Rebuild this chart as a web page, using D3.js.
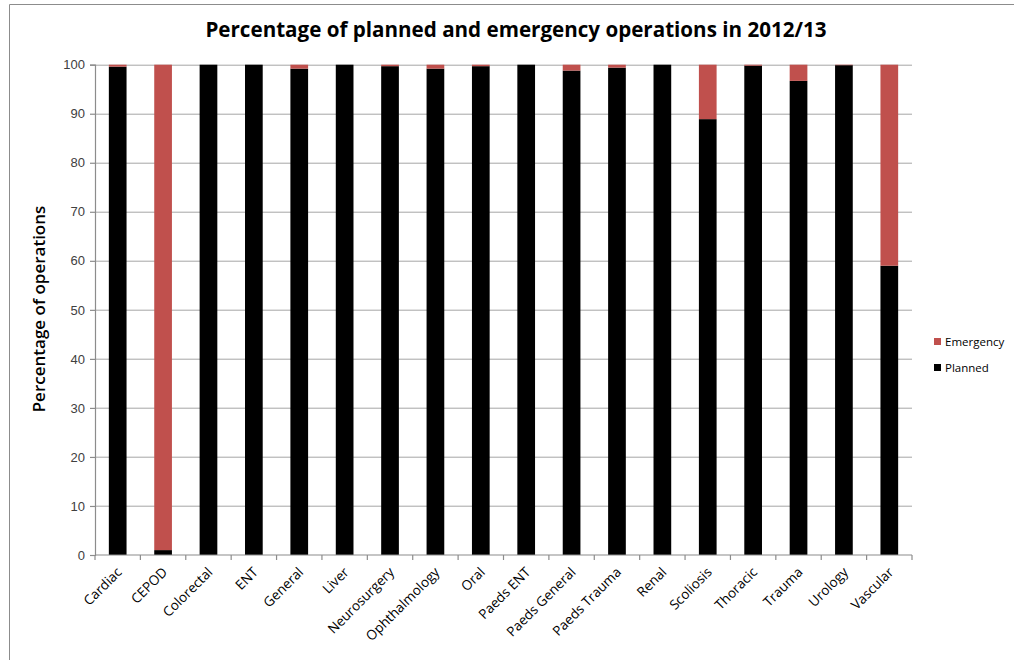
<!DOCTYPE html>
<html>
<head>
<meta charset="utf-8">
<script src="https://cdn.jsdelivr.net/npm/d3@7"></script>
<style>
  html, body { margin: 0; padding: 0; background: #fff; }
  svg { display: block; font-family: "Open Sans", "Noto Sans", sans-serif; }
</style>
</head>
<body>
<svg id="chart" width="1014" height="660"></svg>
<script>
// Specialties and the share of operations that were planned vs emergency (%)
const specialties = ["Cardiac", "CEPOD", "Colorectal", "ENT", "General", "Liver",
  "Neurosurgery", "Ophthalmology", "Oral", "Paeds ENT", "Paeds General",
  "Paeds Trauma", "Renal", "Scoliosis", "Thoracic", "Trauma", "Urology", "Vascular"];
const planned = [99.6, 1.0, 100, 100, 99.2, 100, 99.7, 99.2, 99.7, 100, 98.8,
  99.4, 100, 88.9, 99.8, 96.7, 99.9, 59.0];
const emergency = planned.map(p => +(100 - p).toFixed(1));
const yTicks = [0, 10, 20, 30, 40, 50, 60, 70, 80, 90, 100];
const seriesNames = ["Planned", "Emergency"];
const seriesColors = { Planned: "#000000", Emergency: "#C0504D" };

const svg = d3.select("#chart");
const W = 1014, H = 660;
const margin = { left: 95, right: 102, top: 64.7, bottom: 105 };
const plotW = W - margin.left - margin.right;
const plotH = H - margin.top - margin.bottom;

// Chart frame
svg.append("line").attr("x1", 9.5).attr("x2", 9.5).attr("y1", 4.5).attr("y2", H)
  .attr("stroke", "#8c8c8c").attr("stroke-width", 1);
svg.append("line").attr("x1", 9.5).attr("x2", W).attr("y1", 4.5).attr("y2", 4.5)
  .attr("stroke", "#8c8c8c").attr("stroke-width", 1);

const g = svg.append("g").attr("transform", `translate(${margin.left},${margin.top})`);

const x = d3.scaleBand().domain(specialties).range([0, plotW]).paddingInner(0.61).paddingOuter(0.305);
const y = d3.scaleLinear().domain([0, 100]).range([plotH, 0]);

// Horizontal gridlines
g.append("g").selectAll("line").data(yTicks.filter(t => t > 0)).join("line")
  .attr("x1", 0).attr("x2", plotW)
  .attr("y1", d => Math.round(y(d)) + 0.5).attr("y2", d => Math.round(y(d)) + 0.5)
  .attr("stroke", "#a6a6a6").attr("stroke-width", 1);

// Stacked bars
const rows = specialties.map((s, i) => ({ specialty: s, Planned: planned[i], Emergency: emergency[i] }));
const stack = d3.stack().keys(seriesNames)(rows);
g.append("g").selectAll("g").data(stack).join("g")
  .attr("fill", d => seriesColors[d.key])
  .selectAll("rect").data(d => d).join("rect")
  .attr("x", d => x(d.data.specialty))
  .attr("width", x.bandwidth())
  .attr("y", d => y(d[1]))
  .attr("height", d => y(d[0]) - y(d[1]));

// Y axis
const yAxis = g.append("g").call(d3.axisLeft(y).tickValues(yTicks).tickSize(5).tickPadding(5));
yAxis.select(".domain").attr("stroke", "#8c8c8c").attr("stroke-width", 1.2);
yAxis.selectAll(".tick line").attr("stroke", "#8c8c8c").attr("stroke-width", 1.2);
yAxis.selectAll(".tick text").attr("font-size", 13).attr("fill", "#404040");

// X axis: tick marks sit between categories
const xAxisG = g.append("g").attr("transform", `translate(0,${plotH})`);
xAxisG.append("line").attr("x1", 0).attr("x2", plotW).attr("y1", 0).attr("y2", 0)
  .attr("stroke", "#8c8c8c").attr("stroke-width", 1.2);
const boundaries = d3.range(specialties.length + 1).map(i => i * plotW / specialties.length);
xAxisG.selectAll(".xt").data(boundaries).join("line").attr("class", "xt")
  .attr("x1", d => d).attr("x2", d => d).attr("y1", 0).attr("y2", 5)
  .attr("stroke", "#8c8c8c").attr("stroke-width", 1.2);
xAxisG.selectAll(".xl").data(specialties).join("text").attr("class", "xl")
  .attr("transform", d => `translate(${x(d) + x.bandwidth() / 2 + 5},${18}) rotate(-45)`)
  .attr("text-anchor", "end")
  .attr("font-size", 13.5)
  .attr("fill", "#000")
  .text(d => d);

// Y axis title
svg.append("text")
  .attr("transform", `translate(45,${309}) rotate(-90)`)
  .attr("text-anchor", "middle")
  .attr("font-size", 17)
  .attr("font-weight", 600)
  .text("Percentage of operations");

// Chart title
svg.append("text")
  .attr("x", 516).attr("y", 37)
  .attr("text-anchor", "middle")
  .attr("font-size", 20.6)
  .attr("font-weight", "bold")
  .text("Percentage of planned and emergency operations in 2012/13");

// Legend
const legend = svg.append("g").attr("transform", "translate(934,338)");
["Emergency", "Planned"].forEach((k, i) => {
  const row = legend.append("g").attr("transform", `translate(0,${i * 26})`);
  row.append("rect").attr("width", 7).attr("height", 7).attr("fill", seriesColors[k]);
  row.append("text").attr("x", 11).attr("y", 7.5).attr("font-size", 11.5).attr("fill", "#000").text(k);
});
</script>
</body>
</html>
